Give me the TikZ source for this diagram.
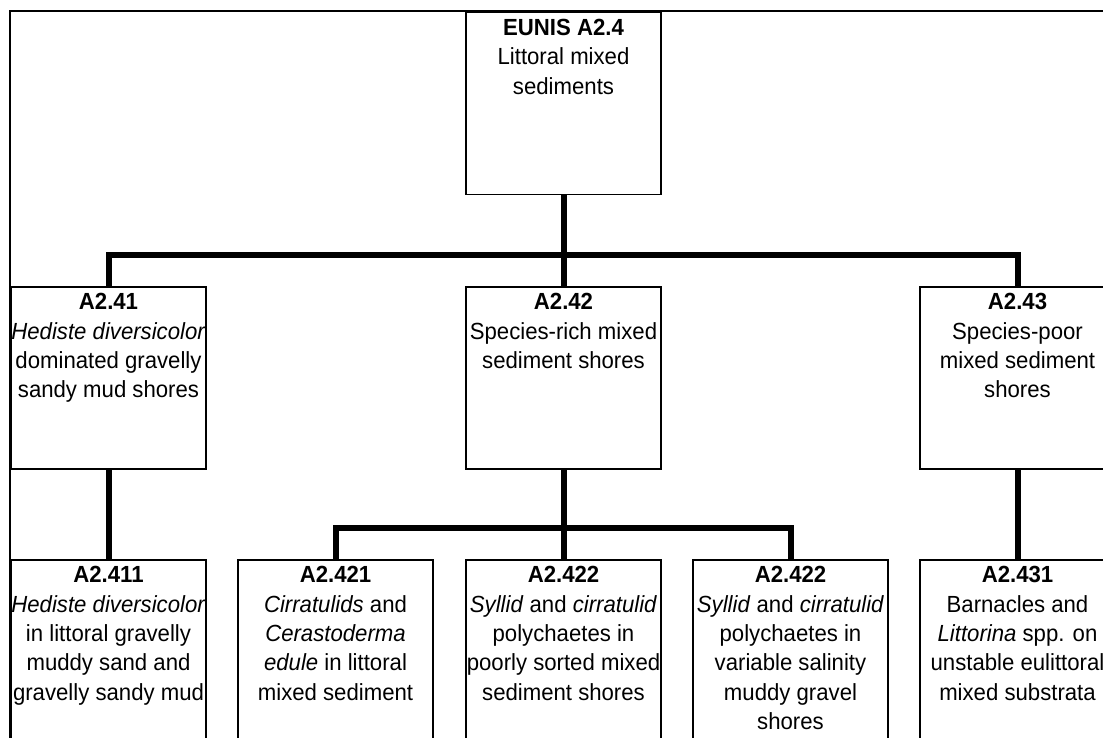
\documentclass[tikz,border=0pt]{standalone}
\usepackage{fontspec}
\setmainfont{Liberation Sans}[FakeStretch=0.95]
\newcommand{\habtext}[1]{\parbox[c][136.5pt][t]{146.25pt}{\centering\vspace*{5pt}#1}}

\begin{document}
\begin{tikzpicture}[x=0.75pt, y=-0.75pt, habitat/.style={draw, line width=1pt, inner sep=0pt},elbow/.style={to path={-- ++(0,#1) -| (\tikztotarget)}}]
\useasboundingbox (0,0) rectangle (1103,738);
\clip (0,0) rectangle (1103,738);
\draw[line width=1pt] (10,750) -- (10,11) -- (1120,11);
\begin{scope}[every node/.style={font=\fontsize{17.5pt}{22pt}\selectfont}]
\node[habitat] (a24) at (563.5,103.5) {\habtext{\textbf{EUNIS A2.4}\\Littoral mixed\\sediments}};
\node[habitat] (a241) at (108.5,378) {\habtext{\textbf{A2.41}\\\textit{Hediste diversicolor}\\dominated gravelly\\sandy mud shores}};
\node[habitat] (a242) at (563.5,378) {\habtext{\textbf{A2.42}\\Species-rich mixed\\sediment shores}};
\node[habitat] (a243) at (1017.5,378) {\habtext{\textbf{A2.43}\\Species-poor\\mixed sediment\\shores}};
\node[habitat] (a2411) at (108.5,651) {\habtext{\textbf{A2.411}\\\textit{Hediste diversicolor}\\in littoral gravelly\\muddy sand and\\gravelly sandy mud}};
\node[habitat] (a2421) at (335.5,651) {\habtext{\textbf{A2.421}\\\textit{Cirratulids} and\\\textit{Cerastoderma}\\\textit{edule} in littoral\\mixed sediment}};
\node[habitat] (a2422) at (563.5,651) {\habtext{\textbf{A2.422}\\\textit{Syllid} and \textit{cirratulid}\\polychaetes in\\poorly sorted mixed\\sediment shores}};
\node[habitat] (a2422b) at (790.5,651) {\habtext{\textbf{A2.422}\\\textit{Syllid} and \textit{cirratulid}\\polychaetes in\\variable salinity\\muddy gravel\\shores}};
\node[habitat] (a2431) at (1017.5,651) {\habtext{\textbf{A2.431}\\Barnacles and\\\textit{Littorina} spp. on\\unstable eulittoral\\mixed substrata}};
\end{scope}
\begin{scope}[every edge/.style={draw=black,line width=4.5pt}]
\draw (a24.south) edge[elbow=60] (a241.north) edge[elbow=60] (a242.north) edge[elbow=60] (a243.north);
\draw (a242.south) edge[elbow=58] (a2421.north) edge[elbow=58] (a2422.north) edge[elbow=58] (a2422b.north);
\draw (a241) edge (a2411);
\draw (a243) edge (a2431);
\end{scope}
\end{tikzpicture}
\end{document}
